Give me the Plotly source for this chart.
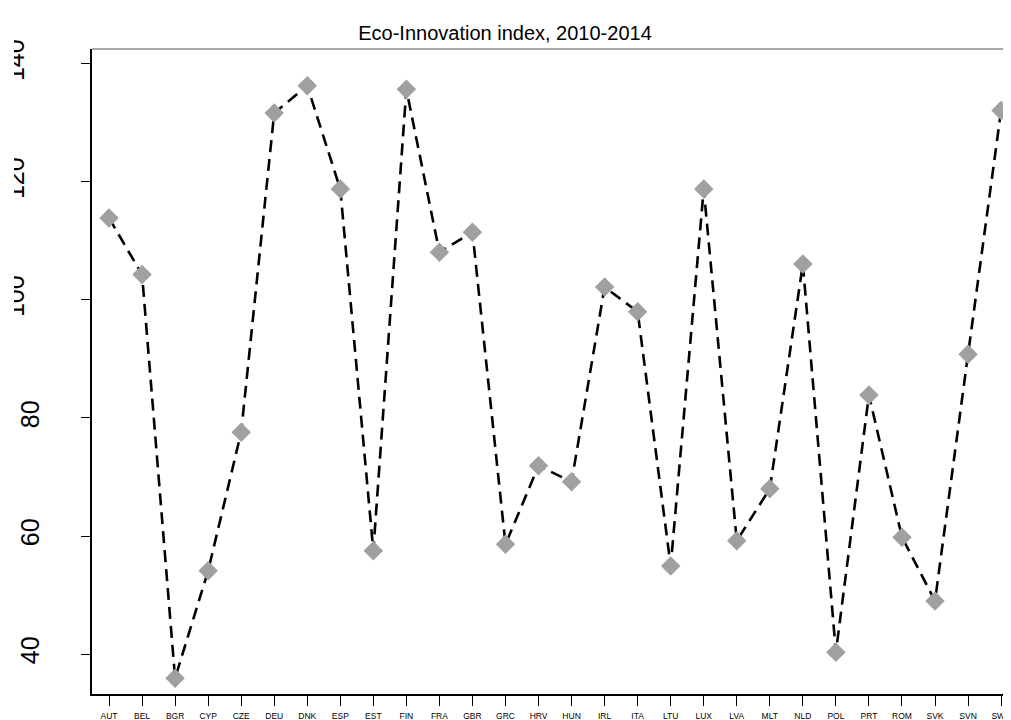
import plotly.graph_objects as go

countries = ["AUT", "BEL", "BGR", "CYP", "CZE", "DEU", "DNK", "ESP", "EST", "FIN",
             "FRA", "GBR", "GRC", "HRV", "HUN", "IRL", "ITA", "LTU", "LUX", "LVA",
             "MLT", "NLD", "POL", "PRT", "ROM", "SVK", "SVN", "SWE"]
eco_index = [113.9, 104.3, 35.9, 54.1, 77.6, 131.7, 136.3, 118.8, 57.5, 135.7,
             108.1, 111.5, 58.6, 71.9, 69.2, 102.2, 98.0, 54.9, 118.8, 59.2,
             68.0, 106.1, 40.3, 83.9, 59.8, 49.0, 90.8, 132.1]
y_ticks_low = [40, 60, 80]
y_ticks_high = [100, 120, 140]

# page body adds an 8px offset, so the figure is sized to land on the 1011x720 window
OFF = 8
W, H = 1011 - OFF, 720 - OFF
L, R, T, B = 92 - OFF, 0, 49 - OFF, 26
plot_w = W - L - R

x_idx = list(range(len(countries)))
y_range = [33.22, 142.54]
x_range = [-0.515, 27.30]

fig = go.Figure()
fig.add_trace(go.Scatter(
    x=x_idx, y=eco_index, mode="lines+markers",
    line=dict(color="black", width=2.6, dash="12px,7px"),
    marker=dict(symbol="diamond", size=15, color="#A0A0A0", line=dict(width=0)),
    showlegend=False, hoverinfo="x+y",
))

axis_font = dict(family="Liberation Sans, Arial, sans-serif", color="black")

fig.update_layout(
    template="none",
    width=W, height=H,
    margin=dict(l=L, r=R, t=T, b=B, pad=0, autoexpand=False),
    paper_bgcolor="white", plot_bgcolor="white",
    title=dict(text="Eco-Innovation index, 2010-2014", x=(505 - OFF) / W, xref="container",
               y=1 - (33 - OFF) / H, yref="container", xanchor="center", yanchor="middle",
               font=dict(family="Liberation Sans, Arial, sans-serif", size=20, color="black")),
    xaxis=dict(range=x_range, tickmode="array", tickvals=x_idx, ticktext=countries,
               automargin=False, ticklabeloverflow="allow",
               showgrid=False, zeroline=False, showline=True, linecolor="black", linewidth=1.5,
               ticks="outside", ticklen=10, tickwidth=1, tickcolor="black",
               tickfont=dict(size=8.5, **axis_font), tickangle=0, ticklabelstandoff=3),
    yaxis=dict(range=y_range, tickmode="array", tickvals=y_ticks_low + y_ticks_high,
               ticktext=[str(v) for v in y_ticks_low] + ["" for v in y_ticks_high],
               automargin=False,
               showgrid=False, zeroline=False, showline=True, linecolor="black", linewidth=1.5,
               ticks="outside", ticklen=9, tickwidth=1, tickcolor="black",
               tickfont=dict(size=25, **axis_font), tickangle=-90, ticklabelstandoff=32),
    yaxis2=dict(range=y_range, overlaying="y", side="left", tickmode="array",
                tickvals=y_ticks_high, ticktext=[str(v) for v in y_ticks_high],
                automargin=False, ticklabeloverflow="allow",
                showgrid=False, zeroline=False, showline=False, ticks="",
                tickfont=dict(size=25, **axis_font), tickangle=-90, ticklabelstandoff=62),
)

# companion trace so the overlaying axis is drawn
fig.add_trace(go.Scatter(x=[x_idx[0]], y=[eco_index[0]], yaxis="y2", mode="markers",
                         marker=dict(opacity=0), showlegend=False, hoverinfo="skip"))

# top frame line
fig.add_shape(type="line", xref="paper", yref="paper", x0=0, x1=1, y0=1, y1=1,
              line=dict(color="#555555", width=1), layer="above")
# clipped region at the far left (labels are cut in the reference)
fig.add_shape(type="rect", xref="paper", yref="paper",
              x0=-L / plot_w - 0.02, x1=(14 - OFF - L) / plot_w, y0=-0.02, y1=1.1,
              fillcolor="white", line=dict(width=0), layer="above")

fig.write_html("out.html")
